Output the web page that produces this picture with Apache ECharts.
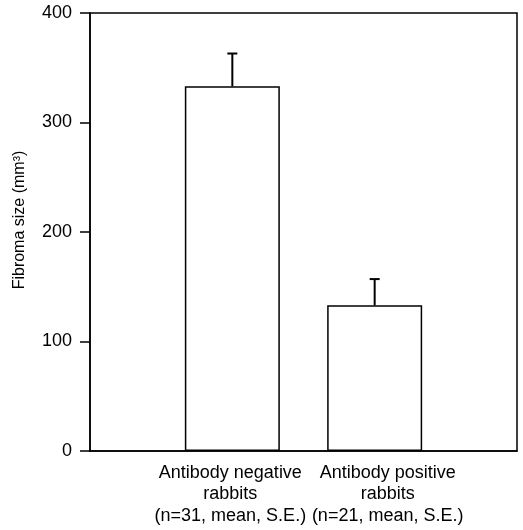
<!DOCTYPE html>
<html>
<head>
<meta charset="utf-8">
<script src="https://cdn.jsdelivr.net/npm/echarts@6/dist/echarts.min.js"></script>
<style>
  html, body { margin: 0; padding: 0; background: #fff; }
  #chart { width: 523px; height: 530px; }
</style>
</head>
<body>
<div id="chart"></div>
<script>
// 4 slots, bars sit on the two inner ones
var categories = ['', 'Antibody negative\nrabbits\n(n=31, mean, S.E.)', 'Antibody positive\nrabbits\n(n=21, mean, S.E.)', ''];
var meanSize = [null, 333, 133, null];
var errTop = [null, 363, 157, null];
var yTicks = [0, 100, 200, 300, 400];

var font = 'Liberation Sans, Arial, Helvetica, sans-serif';

var errData = [];
for (var i = 0; i < categories.length; i++) {
  if (meanSize[i] != null) errData.push([i, meanSize[i], errTop[i]]);
}

var chart = echarts.init(document.getElementById('chart'), null, { renderer: 'canvas' });

var option = {
  animation: false,
  backgroundColor: '#fff',
  grid: {
    left: 90, right: 6, top: 13, bottom: 79,
    show: true, borderColor: '#000', borderWidth: 1.5, backgroundColor: 'transparent'
  },
  xAxis: {
    type: 'category',
    data: categories,
    boundaryGap: false,
    axisLine: { lineStyle: { color: '#000', width: 1.5 } },
    axisTick: { show: false },
    axisLabel: {
      interval: 0, color: '#000', fontFamily: font, fontSize: 18,
      lineHeight: 21.5, margin: 11, align: 'center',
      formatter: function (val, idx) {
        if (!val) return '';
        // second label sits a bit right of its bar in the original
        var tag = idx === 2 ? 'p' : 'n';
        return val.split('\n').map(function (s) { return '{' + tag + '|' + s + '}'; }).join('\n');
      },
      rich: {
        n: { fontFamily: font, fontSize: 18, lineHeight: 21.5, color: '#000', padding: [0, 4, 0, 0] },
        p: { fontFamily: font, fontSize: 18, lineHeight: 21.5, color: '#000', padding: [0, 0, 0, 26] }
      }
    },
    splitLine: { show: false }
  },
  yAxis: {
    type: 'value',
    min: yTicks[0], max: yTicks[yTicks.length - 1], interval: 100,
    name: 'Fibroma size (mm³)',
    nameLocation: 'middle', nameGap: 62, nameRotate: 90,
    nameTextStyle: { color: '#000', fontFamily: font, fontSize: 16, padding: [0, 0, 0, 24] },
    axisLine: { show: true, lineStyle: { color: '#000', width: 1.5 } },
    axisTick: { show: true, length: 10, lineStyle: { color: '#000', width: 1.5 } },
    axisLabel: { color: '#000', fontFamily: font, fontSize: 18, margin: 18 },
    splitLine: { show: false }
  },
  series: [
    {
      type: 'bar',
      data: meanSize,
      barWidth: 95,
      itemStyle: { color: '#fff', borderColor: '#000', borderWidth: 1.5 },
      z: 2
    },
    {
      type: 'custom',
      data: errData,
      z: 3,
      renderItem: function (params, api) {
        var base = api.coord([api.value(0), api.value(1)]);
        var top = api.coord([api.value(0), api.value(2)]);
        var x = base[0];
        var hw = 5;
        return {
          type: 'group',
          children: [
            { type: 'line', shape: { x1: x, y1: base[1], x2: x, y2: top[1] }, style: { stroke: '#000', lineWidth: 2 } },
            { type: 'line', shape: { x1: x - hw, y1: top[1], x2: x + hw, y2: top[1] }, style: { stroke: '#000', lineWidth: 2 } }
          ]
        };
      }
    }
  ]
};

chart.setOption(option);
</script>
</body>
</html>
